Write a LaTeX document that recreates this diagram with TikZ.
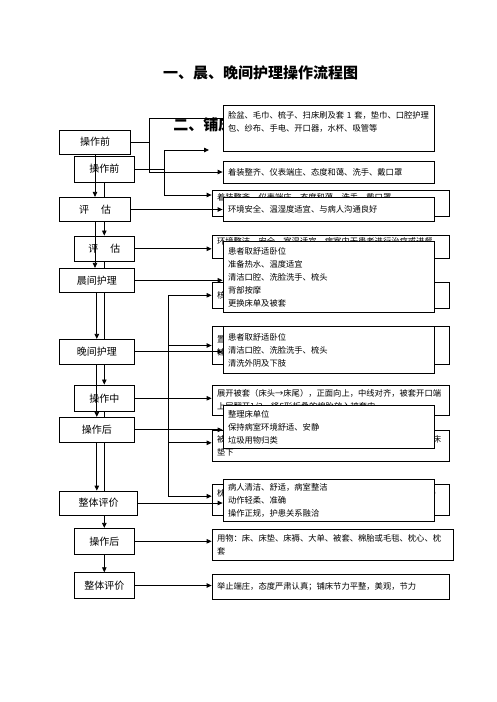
\documentclass[tikz,border=0pt]{standalone}
\usepackage{fontspec}
\setmainfont{Noto Sans CJK SC}
\usetikzlibrary{arrows.meta, calc}

\begin{document}
\begin{tikzpicture}[x=1pt, y=-1pt, line width=0.8pt,
  lbox/.style={draw, fill=white, inner sep=0pt, font=\fontsize{10}{12}\selectfont},
  rbox/.style={draw, fill=white, inner xsep=5pt, inner ysep=0pt, align=left,
    font=\fontsize{8.3}{13}\selectfont},
  rboxa/.style={rbox, text width=201pt, minimum width=211pt},
  rboxb/.style={rbox, text width=227pt, minimum width=237pt},
  arr/.style={-{Triangle[length=5pt,width=4.5pt]}},
  ttl/.style={font=\bfseries\fontsize{15}{18}\selectfont, inner sep=0pt}]
\useasboundingbox (0,0) rectangle (496,702);

% titles
\node[ttl] (title1) at (260.5,73) {一、晨、晚间护理操作流程图};
\node[ttl, anchor=west] (title2) at (173,125) {二、铺床操作流程图};

% ---- bed making chart ----
\node[rboxb, minimum height=26pt] (b2) at (330.5,203) {着装整齐、仪表端庄、态度和蔼、洗手、戴口罩\\ \mbox{}};
\node[rboxb, minimum height=23.4pt] (b3) at (330.5,247) {环境整洁、安全，室温适宜，病室内无患者进行治疗或进餐\\ \mbox{}};
\node[rboxb, minimum height=26pt] (b4) at (330.5,295.3) {核对床号，检查床垫、床架是否完好};
\node[rboxb, minimum height=37.6pt] (b5) at (330.5,345.5) {置椅于床尾，移开床旁桌\\铺床褥，铺大单，四角折成斜角};
\node[rboxb, minimum height=30pt] (b6) at (330.5,400) {展开被套（床头→床尾），正面向上，中线对齐，被套开口端\\上层翻开1/3，将S形折叠的棉胎放入被套内};
\node[rboxb, minimum height=30.3pt] (b7) at (330.5,445.8) {被套两侧内折与床沿平齐，被尾内折与床尾平齐，尾端塞于床\\垫下};
\node[rboxb, minimum height=30.7pt] (b8) at (330.5,499.7) {枕芯装入枕套，四角充实，平放于床头，开口背门（背向门）\\ \mbox{}};
\node[rboxb, minimum width=241pt, text width=231pt, minimum height=31.7pt] (b9) at (332.5,545) {用物：床、床垫、床褥、大单、被套、棉胎或毛毯、枕心、枕\\套};
\node[rboxb, minimum height=24.7pt] (b10) at (330.5,586.7) {举止端庄，态度严肃认真；铺床节力平整，美观，节力};

\node[lbox, minimum width=60pt, minimum height=26pt] (bpre) at (104.3,169) {操作前};
\node[lbox, minimum width=60pt, minimum height=25.7pt] (beval) at (104.3,248.8) {评\hspace{12pt}估};
\node[lbox, minimum width=60pt, minimum height=26.7pt] (bmid) at (104.3,398.3) {操作中};
\node[lbox, minimum width=60pt, minimum height=26pt] (bpost) at (104.3,541.3) {操作后};
\node[lbox, minimum width=60pt, minimum height=25.6pt] (bsum) at (104.3,585.5) {整体评价};

\draw[arr] (bpre.south) -- (beval.north);
\draw[arr] (beval.south) -- (bmid.north);
\draw[arr] (bmid.south) -- (bpost.north);
\draw[arr] (bpost.south) -- (bsum.north);

\coordinate (bfork) at (164,150);
\coordinate (b1) at (209,150);
\draw (bpre.east) -- (bpre.east -| bfork);
\draw[arr] (bfork) -- (b1);
\draw[arr] (bfork) |- ($(b2.west)+(0,-8)$);
\draw[arr] (beval.east) -- (beval.east -| b3.west);
\draw[arr] (bmid.east) -- (bmid.east -| b6.west);
\coordinate (bsplit) at ($(bmid.east)+(34,0)$);
\draw[arr] (bsplit) |- (b4.west);
\draw[arr] (bsplit) |- (b5.west);
\draw[arr] (bsplit) |- ($(b7.west)+(0,-3)$);
\draw[arr] (bsplit) |- ($(b8.west)+(0,-3.5)$);
\draw[arr] (bpost.east) -- (bpost.east -| b9.west);
\draw[arr] (bsum.east) -- (bsum.east -| b10.west);

% ---- morning / evening care chart ----
\node[lbox, minimum width=71.4pt, minimum height=24pt] (apre) at (95,142) {操作前};
\node[lbox, minimum width=71.4pt, minimum height=24.4pt] (aeval) at (95,209.5) {评\hspace{12pt}估};
\node[lbox, minimum width=75pt, minimum height=24pt] (amorn) at (96.8,280.3) {晨间护理};
\node[lbox, minimum width=75pt, minimum height=25pt] (aeve) at (96.8,351.8) {晚间护理};
\node[lbox, minimum width=75pt, minimum height=25pt] (apost) at (96.8,429.8) {操作后};
\node[lbox, minimum width=78.4pt, minimum height=24pt] (asum) at (98.5,503) {整体评价};

\node[rboxa, minimum height=46pt] (a1) at (328.5,128) {脸盆、毛巾、梳子、扫床刷及套~1~套，垫巾、口腔护理\\包、纱布、手电、开口器，水杯、吸管等\\ \mbox{}};
\node[rboxa, minimum height=22pt] (a2) at (328.5,172) {着装整齐、仪表端庄、态度和蔼、洗手、戴口罩};
\node[rboxa, minimum height=24.4pt] (a3) at (328.5,209.5) {环境安全、温湿度适宜、与病人沟通良好};
\node[rboxa, minimum height=71pt] (a4) at (328.5,277.2) {患者取舒适卧位\\准备热水、温度适宜\\清洁口腔、洗脸洗手、梳头\\背部按摩\\更换床单及被套};
\node[rboxa, minimum height=46.6pt] (a5) at (328.5,350) {患者取舒适卧位\\清洁口腔、洗脸洗手、梳头\\清洗外阴及下肢};
\node[rboxa, minimum height=42.6pt] (a6) at (328.5,427) {整理床单位\\保持病室环境舒适、安静\\垃圾用物归类};
\node[rboxa, minimum height=42.4pt] (a7) at (328.5,500.5) {病人清洁、舒适，病室整洁\\动作轻柔、准确\\操作正规，护患关系融洽};

\draw (apre.east) -- ++(18,0) coordinate (afork);
\draw (afork) |- ($(a1.west)+(0,-10)$);
\draw[arr] (afork) |- (a2.west);
\draw[arr] (apre.south) -- (apre.south |- aeval.north);
\draw[arr] (aeval.south) -- (aeval.south |- amorn.north);
\draw[arr] (amorn.south) -- (amorn.south |- aeve.north);
\draw[arr] (aeve.south) -- (aeve.south |- apost.north);
\draw[arr] (apost.south) -- (apost.south |- asum.north);
\draw[arr] (aeval.east) -- (aeval.east -| a3.west);
\draw[arr] (amorn.east) -- (amorn.east -| a4.west);
\draw[arr] (aeve.east) -- (aeve.east -| a5.west);
\draw[arr] (apost.east) -- (apost.east -| a6.west);
\draw[arr] (asum.east) -- (asum.east -| a7.west);
\end{tikzpicture}
\end{document}
